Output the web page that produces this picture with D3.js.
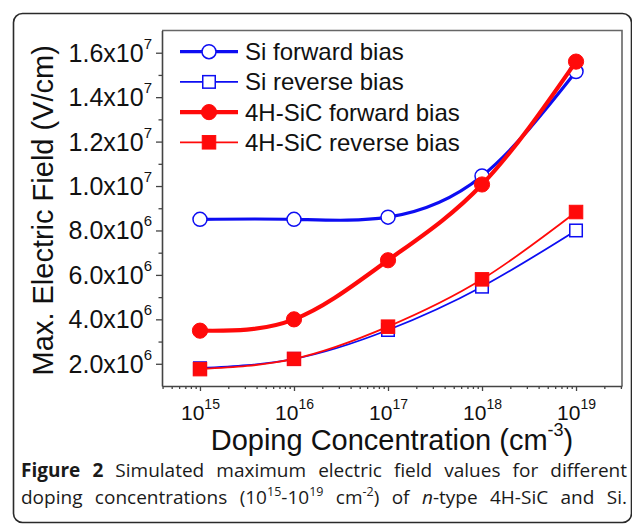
<!DOCTYPE html>
<html>
<head>
<meta charset="utf-8">
<script src="https://cdn.jsdelivr.net/npm/d3@7"></script>
<style>
  html, body { margin: 0; padding: 0; background: #fff; }
  svg { display: block; }
</style>
</head>
<body>
<svg id="chart" width="632" height="528"></svg>
<script>
// ---------------- data ----------------
const categories = [1e15, 1e16, 1e17, 1e18, 1e19];
const siForward  = [8.5e6, 8.5e6, 8.6e6, 1.045e7, 1.515e7];
const siReverse  = [1.8e6, 2.22e6, 3.52e6, 5.47e6, 8.0e6];
const sicForward = [3.49e6, 4.0e6, 6.66e6, 1.007e7, 1.56e7];
const sicReverse = [1.76e6, 2.22e6, 3.67e6, 5.8e6, 8.83e6];
const seriesNames = ["Si forward bias", "Si reverse bias", "4H-SiC forward bias", "4H-SiC reverse bias"];
const yTickValues = [2e6, 4e6, 6e6, 8e6, 1e7, 1.2e7, 1.4e7, 1.6e7];
const yTickMantissa = ["2.0", "4.0", "6.0", "8.0", "1.0", "1.2", "1.4", "1.6"];
const yTickExponent = ["6", "6", "6", "6", "7", "7", "7", "7"];
const xTickExponent = ["15", "16", "17", "18", "19"];
const yTitle = "Max. Electric Field (V/cm)";
const xTitleMain = "Doping Concentration (cm";
const xTitleSup = "-3";
const captionBold = "Figure 2";
const captionLine1 = " Simulated maximum electric field values for different";

// ---------------- layout ----------------
const svg = d3.select("#chart");
const L = 162, R = 622, T = 30.5, B = 386;
const FONT = "'Liberation Sans', Arial, sans-serif";
const BLUE = "#0d0df2", RED = "#ff0a0a";

const x = d3.scaleLog().domain([Math.pow(10, 14.596), Math.pow(10, 19.489)]).range([L, R]);
const y = d3.scaleLinear().domain([1e6, 1.7e7]).range([B, T]);

// outer rounded frame
svg.append("rect").attr("x", 13.5).attr("y", 13.5).attr("width", 618).attr("height", 509)
  .attr("rx", 9).attr("fill", "none").attr("stroke", "#2a2a2a").attr("stroke-width", 1.6);

// plot box (top/right)
svg.append("path").attr("d", `M${L},${T}H${R}V${B}`)
  .attr("fill", "none").attr("stroke", "#666").attr("stroke-width", 1.6);

// y axis
const yMinor = d3.range(3e6, 1.7e7, 2e6);
svg.append("g").attr("transform", `translate(${L},0)`)
  .call(d3.axisLeft(y).tickValues(yMinor).tickSize(3.5).tickFormat("").tickSizeOuter(0))
  .call(g => g.select(".domain").remove())
  .call(g => g.selectAll("line").attr("stroke", "#444").attr("stroke-width", 1.3));
const yAx = svg.append("g").attr("transform", `translate(${L},0)`)
  .call(d3.axisLeft(y).tickValues(yTickValues).tickSize(6).tickSizeOuter(0).tickPadding(4));
yAx.select(".domain").attr("stroke", "#444").attr("stroke-width", 1.6);
yAx.selectAll("line").attr("stroke", "#444").attr("stroke-width", 1.3);
yAx.selectAll("text").each(function(d, i) {
  const t = d3.select(this);
  t.text(null).attr("font-family", FONT).attr("font-size", 25).attr("fill", "#111")
    .attr("dy", "0.34em").attr("x", -10);
  t.append("tspan").text(yTickMantissa[i] + "x10");
  t.append("tspan").attr("font-size", 15).attr("dy", -13).text(yTickExponent[i]);
});

// x axis
const xMinor = [];
for (let e = 14; e <= 19; e++) for (let m = 2; m <= 9; m++) {
  const v = m * Math.pow(10, e);
  if (v > x.domain()[0] && v < x.domain()[1]) xMinor.push(v);
}
svg.append("g").attr("transform", `translate(0,${B})`)
  .call(d3.axisBottom(x).tickValues(xMinor).tickSize(3).tickFormat("").tickSizeOuter(0))
  .call(g => g.select(".domain").remove())
  .call(g => g.selectAll("line").attr("stroke", "#444").attr("stroke-width", 1.3));
const xAx = svg.append("g").attr("transform", `translate(0,${B})`)
  .call(d3.axisBottom(x).tickValues(categories).tickSize(5).tickSizeOuter(0));
xAx.select(".domain").attr("stroke", "#444").attr("stroke-width", 1.6);
xAx.selectAll("line").attr("stroke", "#444").attr("stroke-width", 1.3);
xAx.selectAll("text").each(function(d, i) {
  const t = d3.select(this);
  t.text(null).attr("font-family", FONT).attr("font-size", 21).attr("fill", "#111")
    .attr("y", 34).attr("dy", 0).attr("text-anchor", "middle");
  t.append("tspan").text("10");
  t.append("tspan").attr("font-size", 14).attr("dy", -11).text(xTickExponent[i]);
});

// axis titles
svg.append("text").attr("transform", `translate(53,${(T + B) / 2 + 2}) rotate(-90)`)
  .attr("text-anchor", "middle").attr("font-family", FONT).attr("font-size", 29).attr("fill", "#111")
  .text(yTitle);
const xt = svg.append("text").attr("x", (L + R) / 2 + 0).attr("y", 450)
  .attr("text-anchor", "middle").attr("font-family", FONT).attr("font-size", 29).attr("fill", "#111");
xt.append("tspan").text(xTitleMain);
xt.append("tspan").attr("font-size", 18).attr("dy", -14).text(xTitleSup);
xt.append("tspan").attr("dy", 14).text(")");

// series
const series = [
  {name: seriesNames[0], values: siForward,  color: BLUE, width: 3.2, shape: "circle", filled: false},
  {name: seriesNames[1], values: siReverse,  color: BLUE, width: 1.8, shape: "square", filled: false},
  {name: seriesNames[2], values: sicForward, color: RED,  width: 4.2, shape: "circle", filled: true},
  {name: seriesNames[3], values: sicReverse, color: RED,  width: 1.8, shape: "square", filled: true}
];
const line = d3.line().x(d => x(d[0])).y(d => y(d[1])).curve(d3.curveNatural);

function marker(g, s, cx, cy) {
  if (s.shape === "circle") {
    const r = s.filled ? 7.6 : 7;
    g.append("circle").attr("cx", cx).attr("cy", cy).attr("r", r)
      .attr("fill", s.filled ? s.color : "#fff").attr("stroke", s.color).attr("stroke-width", s.filled ? 1 : 1.5);
  } else {
    const a = s.filled ? 13.5 : 12.5;
    g.append("rect").attr("x", cx - a / 2).attr("y", cy - a / 2).attr("width", a).attr("height", a)
      .attr("fill", s.filled ? s.color : "#fff").attr("stroke", s.color).attr("stroke-width", s.filled ? 1 : 1.5);
  }
}

series.forEach(s => {
  const pts = categories.map((c, i) => [c, s.values[i]]);
  const g = svg.append("g");
  g.append("path").attr("d", line(pts)).attr("fill", "none")
    .attr("stroke", s.color).attr("stroke-width", s.width).attr("stroke-linejoin", "round");
  pts.forEach(p => marker(g, s, x(p[0]), y(p[1])));
});

// legend
const legY0 = 51.7, legDY = 30.2;
series.forEach((s, i) => {
  const g = svg.append("g");
  const yy = legY0 + i * legDY;
  g.append("line").attr("x1", 180).attr("x2", 238).attr("y1", yy).attr("y2", yy)
    .attr("stroke", s.color).attr("stroke-width", s.width);
  marker(g, s, 209, yy);
  g.append("text").attr("x", 245).attr("y", yy + 8.5).attr("font-family", FONT)
    .attr("font-size", 24).attr("fill", "#111").text(s.name);
});

// caption
const CAP_FONT = "'Open Sans', 'Noto Sans', sans-serif";
const capL = 21, capR = 627;
function justify(t) {
  const nat = t.node().getComputedTextLength();
  const txt = t.text();
  const spaces = (txt.match(/ /g) || []).length;
  if (spaces > 0) t.attr("word-spacing", (capR - capL - nat) / spaces);
}
const c1 = svg.append("text").attr("x", capL).attr("y", 477).attr("font-family", CAP_FONT)
  .attr("font-size", 19).attr("fill", "#1a1a1a");
c1.append("tspan").attr("font-weight", "bold").text(captionBold);
c1.append("tspan").text(captionLine1);
justify(c1);

const c2 = svg.append("text").attr("x", capL).attr("y", 503.5).attr("font-family", CAP_FONT)
  .attr("font-size", 19).attr("fill", "#1a1a1a");
c2.append("tspan").text("doping concentrations (10");
c2.append("tspan").attr("font-size", 12.5).attr("dy", -8).text("15");
c2.append("tspan").attr("dy", 8).text("-10");
c2.append("tspan").attr("font-size", 12.5).attr("dy", -8).text("19");
c2.append("tspan").attr("dy", 8).text(" cm");
c2.append("tspan").attr("font-size", 12.5).attr("dy", -8).text("-2");
c2.append("tspan").attr("dy", 8).text(") of ");
c2.append("tspan").attr("font-style", "italic").text("n");
c2.append("tspan").text("-type 4H-SiC and Si.");
justify(c2);
</script>
</body>
</html>
